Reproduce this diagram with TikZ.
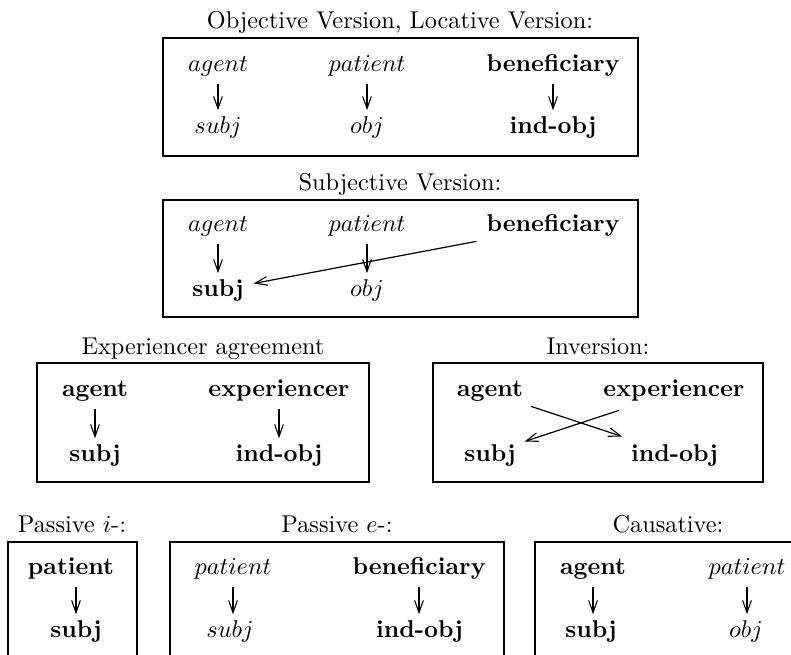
\documentclass[tikz,border=0pt]{standalone}
\usetikzlibrary{arrows.meta,calc}
\begin{document}
\begin{tikzpicture}[x=0.4115pt,y=-0.4115pt,
  frame/.style={draw, line width=1.1pt},
  lbl/.style={anchor=base, inner sep=0pt, text height=7pt, text depth=2pt},
  ttl/.style={anchor=base, inner sep=0pt},
  tip/.style={-{Straight Barb[length=5pt,width=3.6pt,line width=0.45pt]}},
  arr/.style={tip, line width=0.7pt, shorten <=2.6pt, shorten >=2.6pt},
  arrthick/.style={arr, line width=1.1pt},
  diag/.style={tip, line width=0.5pt}]
\useasboundingbox (0,0) rectangle (791,655);
\clip (0,0) rectangle (791,655);

% ---- Box 1
\node[ttl] (t1) at (400,29) {Objective Version, Locative Version:};
\draw[frame] (163,38) rectangle (638,156);
\node[lbl] (ag1) at (218,72) {$agent$};
\node[lbl] (pa1) at (367,72) {$patient$};
\node[lbl] (be1) at (553,72) {\textbf{beneficiary}};
\node[lbl] (su1) at (218,134) {$subj$};
\node[lbl] (ob1) at (367,134) {$obj$};
\node[lbl] (io1) at (553,134) {\textbf{ind-obj}};
\draw[arr] (ag1.south) -- (ag1.south |- su1.north);
\draw[arr] (pa1.south) -- (pa1.south |- ob1.north);
\draw[arr] (be1.south) -- (be1.south |- io1.north);

% ---- Box 2
\node[ttl] (t2) at (400,191) {Subjective Version:};
\draw[frame] (163,200) rectangle (638,317);
\node[lbl] (ag2) at (218,232) {$agent$};
\node[lbl] (pa2) at (367,232) {$patient$};
\node[lbl] (be2) at (553,232) {\textbf{beneficiary}};
\node[lbl] (su2) at (218,297) {\textbf{subj}};
\node[lbl] (ob2) at (367,297) {$obj$};
\draw[arr] (ag2.south) -- (ag2.south |- su2.north);
\draw[arr, line width=0.9pt] (pa2.south) -- (pa2.south |- ob2.north);
\draw[diag] ($(be2.south west)+(-9.5,4)$) -- ($(su2.north east)+(9.5,4)$);

% ---- Box 3
\node[ttl] (t3) at (203,355) {Experiencer agreement};
\draw[frame] (37,363) rectangle (369,482);
\node[lbl] (ag3) at (95,397) {\textbf{agent}};
\node[lbl] (ex3) at (279,397) {\textbf{experiencer}};
\node[lbl] (su3) at (95,462) {\textbf{subj}};
\node[lbl] (io3) at (279,462) {\textbf{ind-obj}};
\draw[arr] (ag3.south) -- (ag3.south |- su3.north);
\draw[arr] (ex3.south) -- (ex3.south |- io3.north);

% ---- Box 4
\node[ttl] (t4) at (598,355) {Inversion:};
\draw[frame] (433,363) rectangle (763,482);
\node[lbl] (ag4) at (490,397) {\textbf{agent}};
\node[lbl] (ex4) at (674,397) {\textbf{experiencer}};
\node[lbl] (su4) at (490,462) {\textbf{subj}};
\node[lbl] (io4) at (674.5,462) {\textbf{ind-obj}};
\draw[diag] ($(ag4.south east)+(7.5,4)$) -- ($(io4.north west)+(-8.5,-8)$);
\draw[diag] ($(ex4.south west)+(16,8)$) -- ($(su4.north east)+(8.5,-3)$);

% ---- Box 5
\node[ttl] (t5) at (72,533) {Passive $i$-:};
\draw[frame] (8,542) rectangle (137,700);
\node[lbl] (pa5) at (71,575) {\textbf{patient}};
\node[lbl] (su5) at (76,638) {\textbf{subj}};
\draw[arr] (pa5.south -| su5.north) -- (su5.north);

% ---- Box 6
\node[ttl] (t6) at (337,533) {Passive $e$-:};
\draw[frame] (170,542) rectangle (504,700);
\node[lbl] (pa6) at (233,575) {$patient$};
\node[lbl] (be6) at (419,575) {\textbf{beneficiary}};
\node[lbl] (su6) at (230,638) {$subj$};
\node[lbl] (io6) at (419.5,638) {\textbf{ind-obj}};
\draw[arrthick] (pa6.south) -- (pa6.south |- su6.north);
\draw[arrthick] (be6.south) -- (be6.south |- io6.north);

% ---- Box 7
\node[ttl] (t7) at (668,533) {Causative:};
\draw[frame] (535,542) rectangle (801,700);
\node[lbl] (ag7) at (593,575) {\textbf{agent}};
\node[lbl] (pa7) at (747,575) {$patient$};
\node[lbl] (su7) at (591,638) {\textbf{subj}};
\node[lbl] (ob7) at (746,638) {$obj$};
\draw[arr] (ag7.south) -- (ag7.south |- su7.north);
\draw[arr] (pa7.south) -- (pa7.south |- ob7.north);
\end{tikzpicture}
\end{document}
